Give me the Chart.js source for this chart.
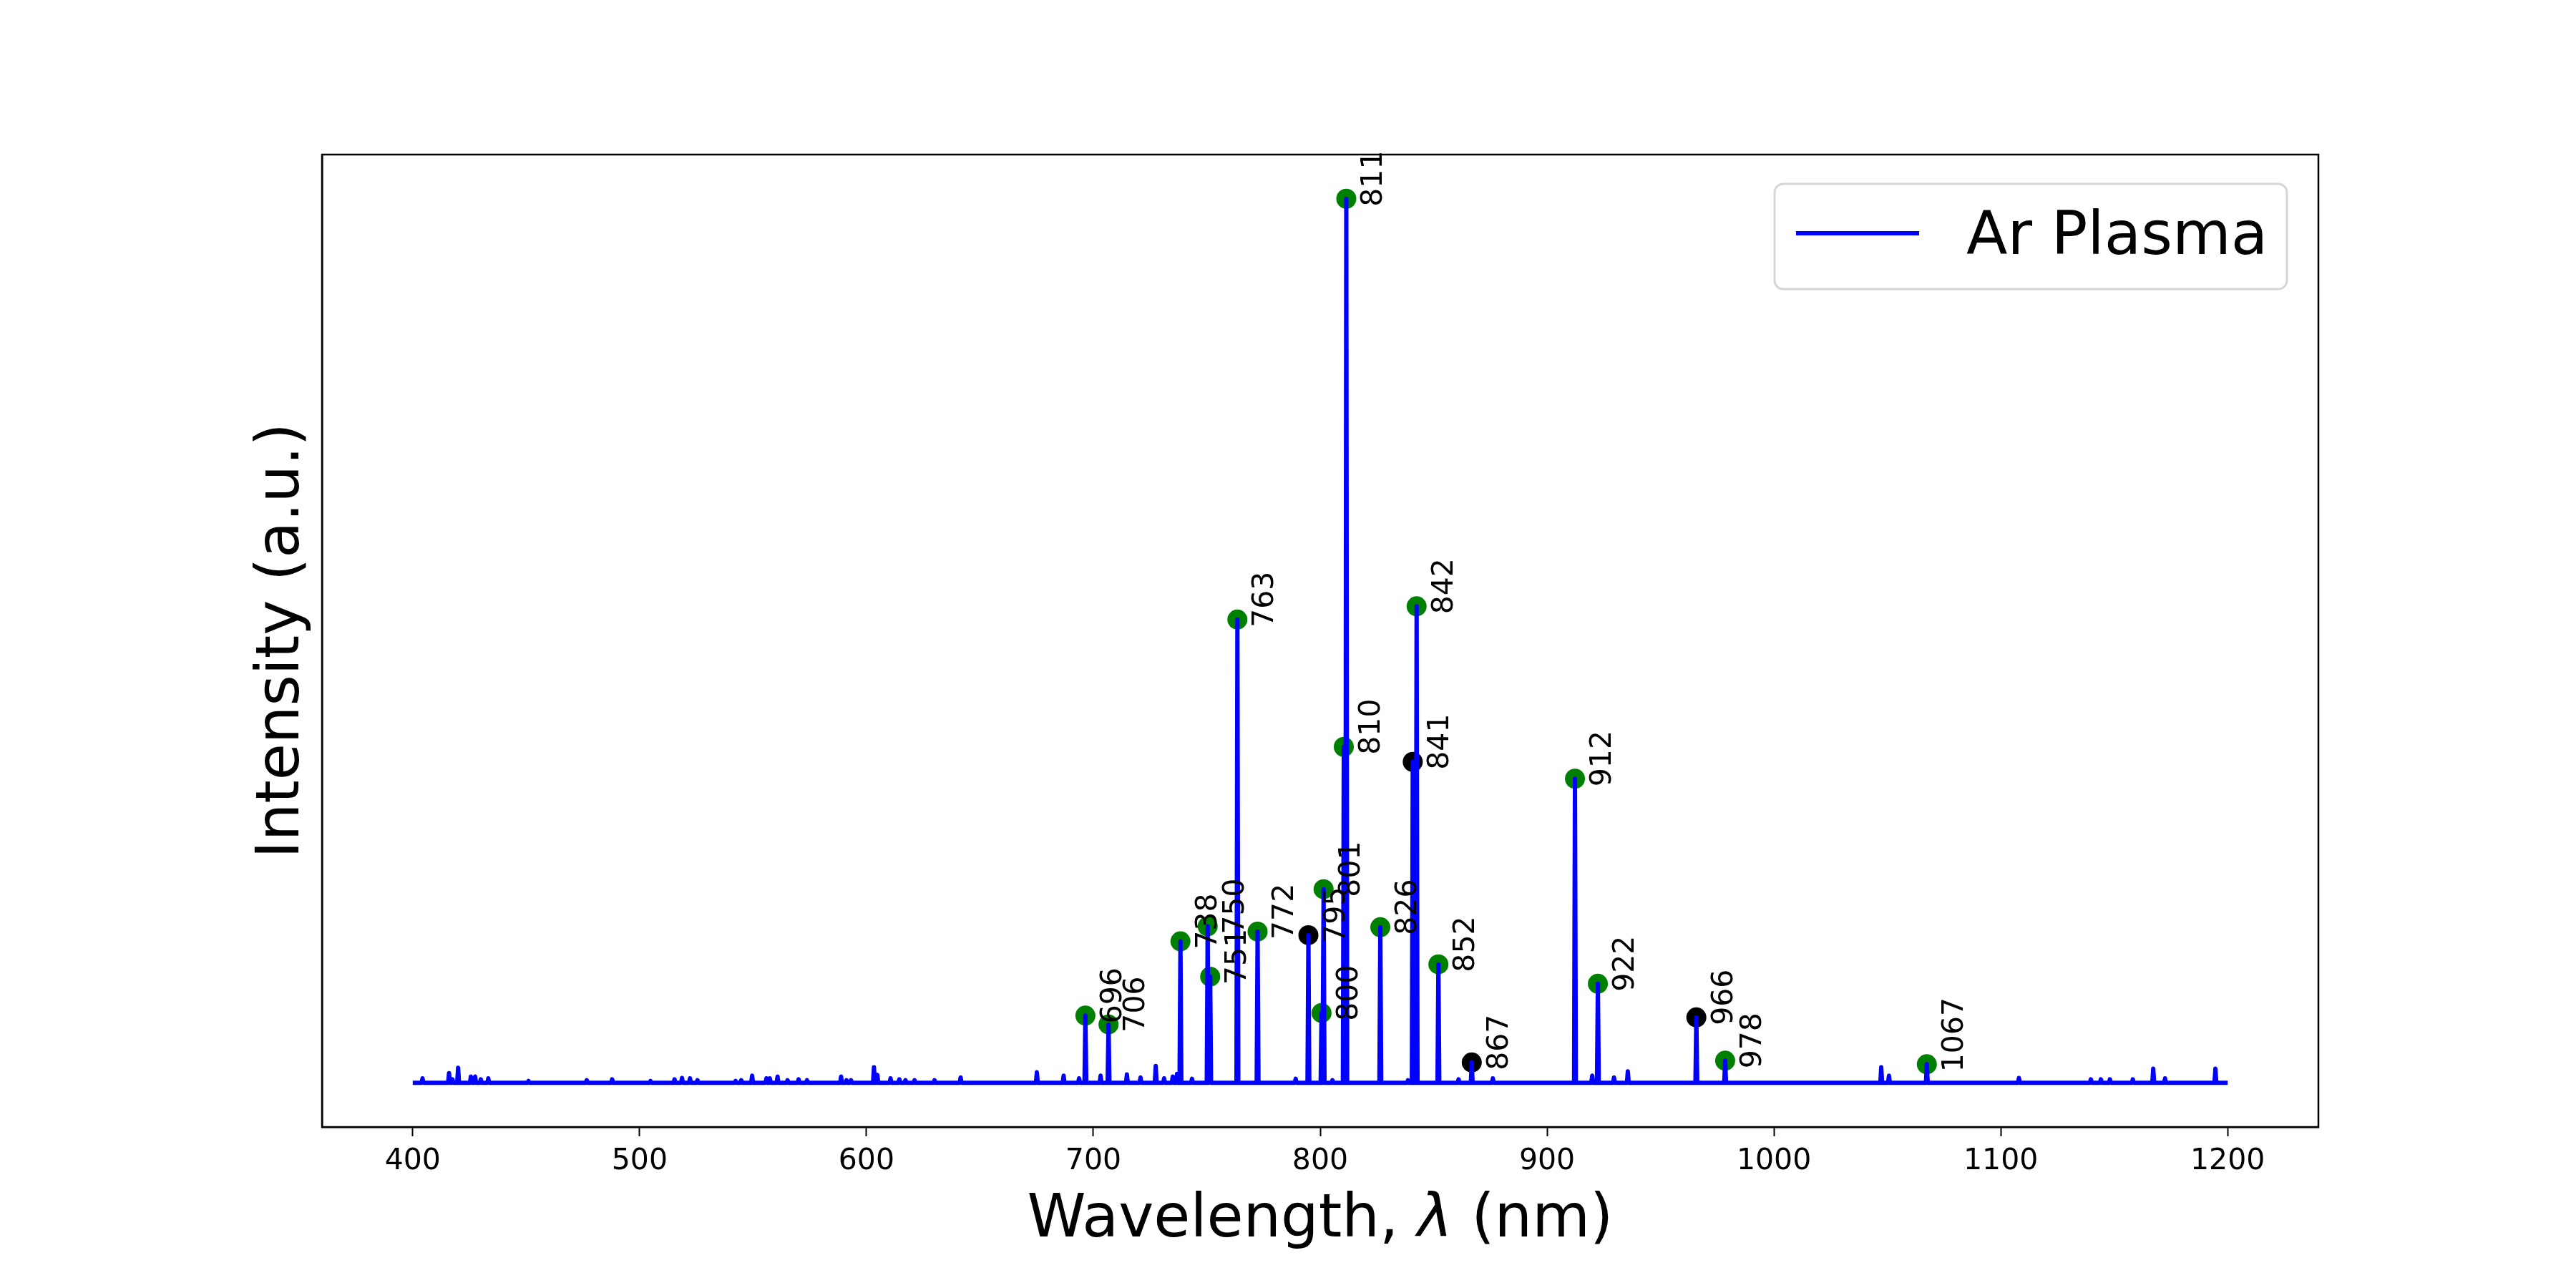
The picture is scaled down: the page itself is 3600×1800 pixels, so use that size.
<!DOCTYPE html>
<html>
<head>
<meta charset="utf-8">
<script src="https://cdn.jsdelivr.net/npm/chart.js@4.4.0/dist/chart.umd.min.js"></script>
<style>
  html, body { margin: 0; padding: 0; background: #fff; }
</style>
</head>
<body>
<canvas id="myChart" width="3600" height="1800"></canvas>
<script>
// labelled Ar lines (nm), peak height (a.u.), text shown next to the dot
const peakWl = [696.5, 706.7, 738.4, 750.4, 751.5, 763.5, 772.4, 794.8, 800.6, 801.5, 810.4, 811.5,
    826.5, 840.8, 842.5, 852.1, 866.8, 912.3, 922.4, 965.8, 978.5, 1067.4];
const peakInt = [0.076, 0.066, 0.160, 0.177, 0.120, 0.524, 0.171, 0.167, 0.079, 0.219, 0.380, 1.000,
    0.176, 0.363, 0.539, 0.134, 0.023, 0.344, 0.112, 0.074, 0.025, 0.021];
const peakText = ['696', '706', '738', '750', '751', '763', '772', '795', '800', '801', '810', '811',
    '826', '841', '842', '852', '867', '912', '922', '966', '978', '1067'];
// 1 = identified line (green), 0 = not identified (black)
const peakKnown = [1, 1, 1, 1, 1, 1, 1, 0, 1, 1, 1, 1, 1, 0, 1, 1, 0, 1, 1, 0, 1, 1];

// small lines along the baseline
const minorWl = [404.3, 416.0, 417.5, 420.0, 425.6, 427.5, 430.0, 433.3, 451.0, 476.7, 487.9, 504.8,
    515.4, 518.7, 522.2, 525.5, 542.3, 544.8, 549.6, 555.9, 557.4, 560.8, 565.2, 570.1, 573.8, 588.8,
    591.2, 593.2, 603.3, 604.8, 610.6, 614.5, 617.2, 621.2, 630.0, 641.5, 675.1, 686.9, 693.7, 703.2,
    714.8, 720.8, 727.5, 731.2, 735.0, 736.9, 743.5, 789.2, 805.4, 838.7, 861.0, 876.1, 919.9, 929.5,
    935.6, 1047.3, 1050.7, 1108.0, 1139.7, 1144.1, 1148.1, 1158.2, 1167.2, 1172.4, 1194.6];
const minorInt = [0.005, 0.011, 0.004, 0.017, 0.007, 0.007, 0.004, 0.005, 0.002, 0.003, 0.004, 0.002,
    0.004, 0.0055, 0.005, 0.003, 0.002, 0.003, 0.008, 0.005, 0.005, 0.007, 0.003, 0.004, 0.003, 0.007,
    0.003, 0.003, 0.0175, 0.009, 0.005, 0.004, 0.003, 0.003, 0.003, 0.006, 0.012, 0.008, 0.005, 0.008,
    0.0095, 0.006, 0.019, 0.005, 0.007, 0.010, 0.0045, 0.0045, 0.003, 0.003, 0.004, 0.005, 0.008, 0.006,
    0.013, 0.0175, 0.008, 0.0055, 0.004, 0.004, 0.004, 0.004, 0.016, 0.005, 0.016];

const wlStart = 400, wlEnd = 1200;
const xTicks = [400, 500, 600, 700, 800, 900, 1000, 1100, 1200];

// spectrum: flat baseline with a narrow spike at every line
let allLines = [];
peakWl.forEach((w, i) => allLines.push([w, peakInt[i]]));
minorWl.forEach((w, i) => allLines.push([w, minorInt[i]]));
allLines.sort((a, b) => a[0] - b[0]);
const spectrum = [{x: wlStart, y: 0}];
allLines.forEach(([w, v]) => {
    spectrum.push({x: w - 0.4, y: 0}, {x: w, y: v}, {x: w + 0.4, y: 0});
});
spectrum.push({x: wlEnd, y: 0});

const FONT = '"DejaVu Sans"';
Chart.defaults.font.family = FONT;

const extras = {
    id: 'extras',
    afterDraw(chart) {
        const ctx = chart.ctx;
        const a = chart.chartArea;
        const xs = chart.scales.x, ys = chart.scales.y;

        // full frame
        ctx.save();
        ctx.strokeStyle = '#000';
        ctx.lineWidth = 2.5;
        ctx.strokeRect(a.left, a.top, a.right - a.left, a.bottom - a.top);

        // peak labels, rotated
        ctx.fillStyle = '#000';
        ctx.font = '41px ' + FONT;
        ctx.textAlign = 'left';
        ctx.textBaseline = 'alphabetic';
        peakWl.forEach((w, i) => {
            const px = xs.getPixelForValue(w), py = ys.getPixelForValue(peakInt[i]);
            ctx.save();
            ctx.translate(px + 50, py + 11);
            ctx.rotate(-Math.PI / 2);
            ctx.fillText(peakText[i], 0, 0);
            ctx.restore();
        });

        // legend
        const lx = 2480, ly = 257, lw = 716, lh = 147;
        ctx.beginPath();
        ctx.roundRect(lx, ly, lw, lh, 12);
        ctx.fillStyle = 'rgba(255,255,255,0.8)';
        ctx.fill();
        ctx.lineWidth = 3;
        ctx.strokeStyle = '#d6d6d6';
        ctx.stroke();
        ctx.beginPath();
        ctx.moveTo(2510, 326);
        ctx.lineTo(2682, 326);
        ctx.strokeStyle = '#0000ff';
        ctx.lineWidth = 6;
        ctx.stroke();
        ctx.fillStyle = '#000';
        ctx.font = '84px ' + FONT;
        ctx.fillText(chart.data.datasets[0].label, 2748, 355);

        // x title with italic lambda
        const parts = [['Wavelength, ', ''], ['λ', 'italic '], [' (nm)', '']];
        let total = 0;
        parts.forEach(p => { ctx.font = p[1] + '83px ' + FONT; total += ctx.measureText(p[0]).width; });
        let cx = (a.left + a.right) / 2 - total / 2;
        parts.forEach(p => {
            ctx.font = p[1] + '83px ' + FONT;
            ctx.fillText(p[0], cx, 1728);
            cx += ctx.measureText(p[0]).width;
        });

        // y title
        ctx.save();
        ctx.translate(417, (a.top + a.bottom) / 2);
        ctx.rotate(-Math.PI / 2);
        ctx.textAlign = 'center';
        ctx.font = '83px ' + FONT;
        ctx.fillText('Intensity (a.u.)', 0, 0);
        ctx.restore();
        ctx.restore();
    }
};

const ctx = document.getElementById('myChart').getContext('2d');
const myChart = new Chart(ctx, {
    type: 'scatter',
    data: {
        datasets: [{
            label: 'Ar Plasma',
            data: spectrum,
            showLine: true,
            borderColor: '#0000ff',
            borderWidth: 6,
            borderJoinStyle: 'round',
            pointRadius: 0,
            tension: 0,
            order: 0
        }, {
            label: 'peaks',
            data: peakWl.map((w, i) => ({x: w, y: peakInt[i]})),
            showLine: false,
            pointRadius: 14,
            pointBorderWidth: 0,
            pointBackgroundColor: peakKnown.map(k => k ? '#008000' : '#000000'),
            order: 1
        }]
    },
    options: {
        responsive: false,
        animation: false,
        devicePixelRatio: 1,
        layout: {padding: {top: 216, right: 360, left: 0, bottom: 0}},
        plugins: {legend: {display: false}, tooltip: {enabled: false}},
        scales: {
            x: {
                type: 'linear',
                min: 360,
                max: 1240,
                afterFit: s => { s.height = 225; },
                afterBuildTicks: s => { s.ticks = xTicks.map(v => ({value: v})); },
                ticks: {
                    color: '#000',
                    font: {size: 41},
                    padding: 11,
                    maxRotation: 0,
                    autoSkip: false,
                    callback: v => String(v)
                },
                grid: {
                    display: true,
                    drawOnChartArea: false,
                    drawTicks: true,
                    tickLength: 13,
                    tickWidth: 2,
                    tickColor: '#000'
                },
                border: {display: true, color: '#000', width: 2.5}
            },
            y: {
                min: -0.05,
                max: 1.05,
                afterFit: s => { s.width = 450; },
                ticks: {display: false},
                grid: {display: false},
                border: {display: true, color: '#000', width: 2.5}
            }
        }
    },
    plugins: [extras]
});
</script>
</body>
</html>
